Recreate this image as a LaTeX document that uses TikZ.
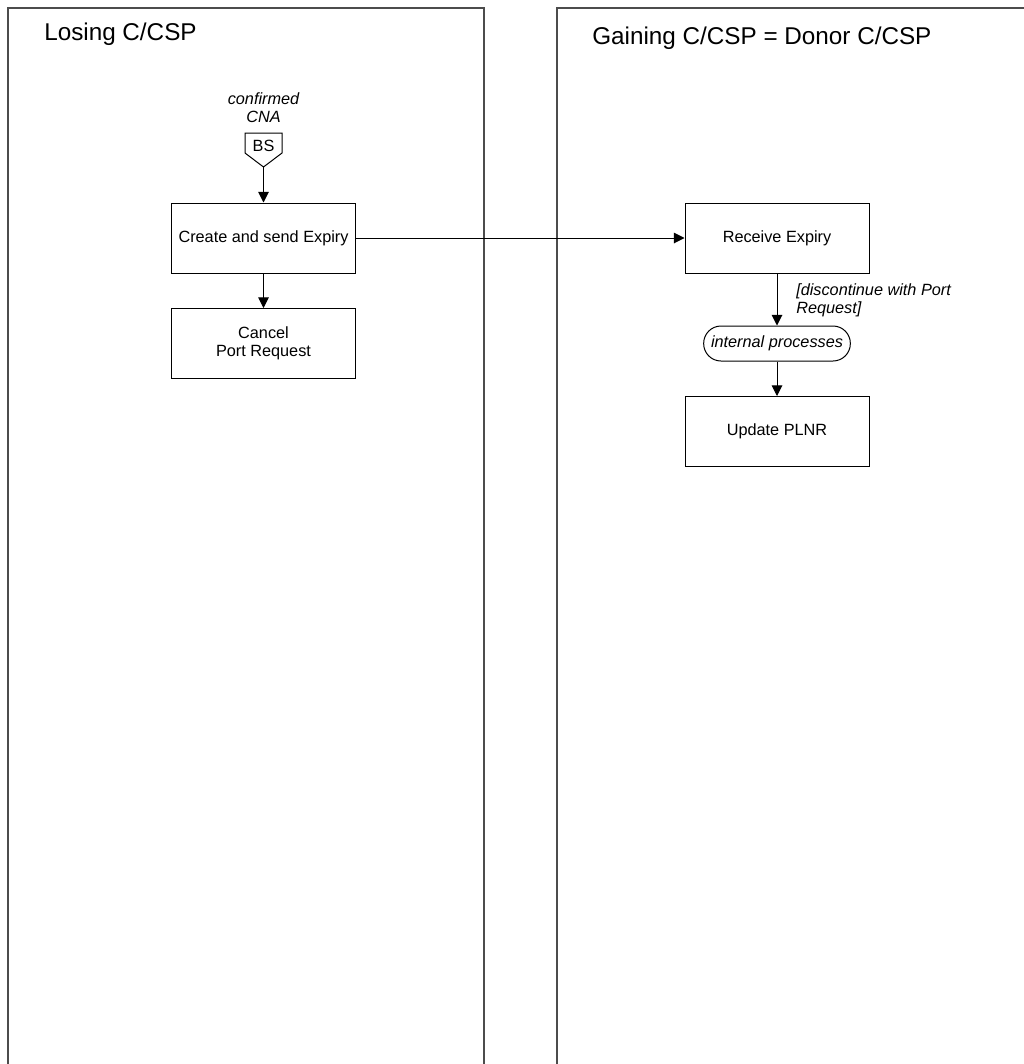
\documentclass[tikz,border=0pt]{standalone}
\usepackage{fontspec}
\setmainfont{Liberation Sans}
\usetikzlibrary{arrows.meta}
\begin{document}
\begin{tikzpicture}[x=0.75pt,y=-0.75pt,
  every node/.style={font=\fontsize{12.2}{13.5}\selectfont, inner sep=0pt},
  box/.style={draw, line width=0.75pt, minimum width=138pt, minimum height=52.5pt, align=center},
  terminal/.style={draw, line width=0.75pt, minimum width=110pt, minimum height=26.25pt,
    rounded corners=13pt, font=\fontsize{12.2}{13.5}\selectfont\itshape},
  flow/.style={draw, line width=0.75pt, -{Triangle[length=8pt,width=8pt]}},
  lane/.style={draw=black!70, line width=0.9pt},
  title/.style={font=\fontsize{18.2}{20}\selectfont, anchor=base west},
  note/.style={font=\fontsize{12.2}{13.5}\selectfont\itshape}]
\useasboundingbox (0,0) rectangle (1024,1064);
\clip (0,0) rectangle (1024,1064);

% swimlanes
\draw[lane] (8,1080) -- (8,8) -- (484,8) -- (484,1080);
\draw[lane] (557,1080) -- (557,8) -- (1040,8);
\node[title] (tLose) at (44,40) {Losing C/CSP};
\node[title] (tGain) at (592,44) {Gaining C/CSP = Donor C/CSP};

% business-signal start
\node[note, align=center, anchor=north] (cna) at (263.5,92) {confirmed\\CNA};
\draw[line width=0.75pt] (245,133) -- (282,133) -- (282,153) -- (263.5,167) -- (245,153) -- cycle;
\node (bs) at (263.5,146) {BS};
\coordinate (bsTip) at (263.5,167);

% losing side
\node[box] (create) at (263.5,238) {Create and send Expiry};
\node[box] (cancel) at (263.5,343.5) {Cancel\\Port Request};

% gaining side
\node[box] (receive) at (777,238) {Receive Expiry};
\node[terminal] (internal) at (777,343.5) {internal processes};
\node[box] (update) at (777,431.5) {Update PLNR};
\node[note, align=left, anchor=north west] (cond) at (796,283) {[discontinue with Port\\Request]};

% connectors
\draw[flow] (bsTip) -- (create.north);
\draw[flow] (create.south) -- (cancel.north);
\draw[flow] (create.east) -- (receive.west);
\draw[flow] (receive.south) -- (internal.north);
\draw[flow] (internal.south) -- (update.north);
\end{tikzpicture}
\end{document}
